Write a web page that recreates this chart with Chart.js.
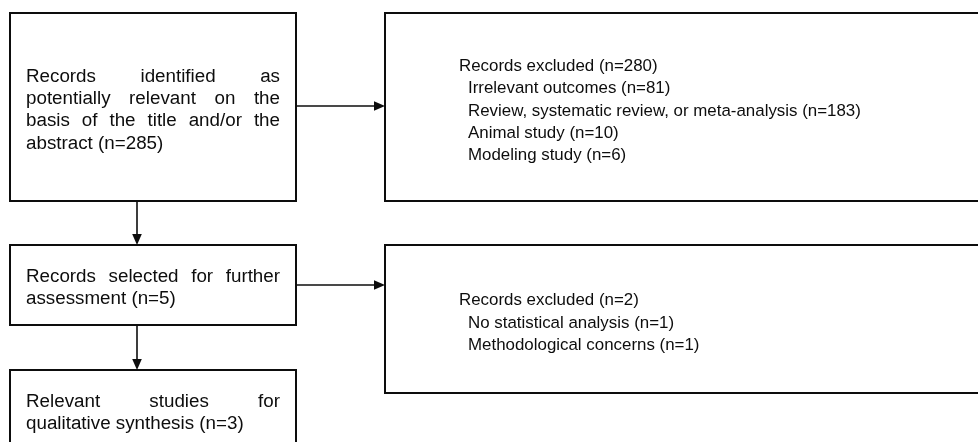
<!DOCTYPE html>
<html>
<head>
<meta charset="utf-8">
<script src="https://cdn.jsdelivr.net/npm/chart.js@4/dist/chart.umd.min.js"></script>
<style>
  html, body { margin: 0; padding: 0; background: #ffffff; }
  #wrap { width: 978px; height: 442px; }
</style>
</head>
<body>
<div id="wrap"><canvas id="c" width="978" height="442"></canvas></div>
<script>
// ---- data ----
const stageLabels = [
  'Records identified as potentially relevant on the basis of the title and/or the abstract',
  'Records selected for further assessment',
  'Relevant studies for qualitative synthesis'
];
const stageCounts = [285, 5, 3];
const excludedTotals = [280, 2];
const reasonsFirst = ['Irrelevant outcomes', 'Review, systematic review, or meta-analysis', 'Animal study', 'Modeling study'];
const reasonsFirstCounts = [81, 183, 10, 6];
const reasonsSecond = ['No statistical analysis', 'Methodological concerns'];
const reasonsSecondCounts = [1, 1];

// ---- layout (scale units: x 0..978, y 0..442 top-down) ----
const stageBoxes = [
  { x0: 10, x1: 296, y0: 13, y1: 201 },
  { x0: 10, x1: 296, y0: 245, y1: 325 },
  { x0: 10, x1: 296, y0: 370, y1: 450 }
];
const exclBoxes = [
  { x0: 385, x1: 985, y0: 13, y1: 201 },
  { x0: 385, x1: 985, y0: 245, y1: 393 }
];
const STAGE_FONT = '18.8px "Liberation Sans", Arial, sans-serif';
const EXCL_FONT = '16.9px "Liberation Sans", Arial, sans-serif';
const LINE_H = 22.2;
const INK = '#0d0d0d';

function n(v) { return ' (n=' + v + ')'; }

const flowPlugin = {
  id: 'flow',
  afterDraw(chart) {
    const ctx = chart.ctx;
    const sx = chart.scales.x, sy = chart.scales.y;
    const X = v => sx.getPixelForValue(v);
    const Y = v => sy.getPixelForValue(v);

    ctx.save();
    ctx.strokeStyle = INK;
    ctx.fillStyle = INK;

    function rect(b) {
      ctx.lineWidth = 2;
      ctx.strokeRect(X(b.x0), Y(b.y0), X(b.x1) - X(b.x0), Y(b.y1) - Y(b.y0));
    }
    function arrowH(xa, xb, y) {
      ctx.lineWidth = 1.6;
      ctx.beginPath();
      ctx.moveTo(X(xa), Y(y));
      ctx.lineTo(X(xb) - 9, Y(y));
      ctx.stroke();
      ctx.beginPath();
      ctx.moveTo(X(xb), Y(y));
      ctx.lineTo(X(xb) - 11, Y(y) - 4.8);
      ctx.lineTo(X(xb) - 11, Y(y) + 4.8);
      ctx.closePath();
      ctx.fill();
    }
    function arrowV(x, ya, yb) {
      ctx.lineWidth = 1.6;
      ctx.beginPath();
      ctx.moveTo(X(x), Y(ya));
      ctx.lineTo(X(x), Y(yb) - 9);
      ctx.stroke();
      ctx.beginPath();
      ctx.moveTo(X(x), Y(yb));
      ctx.lineTo(X(x) - 4.8, Y(yb) - 11);
      ctx.lineTo(X(x) + 4.8, Y(yb) - 11);
      ctx.closePath();
      ctx.fill();
    }
    function wrap(text, maxW) {
      const words = text.split(' ');
      const lines = [];
      let cur = [];
      for (const w of words) {
        const test = cur.concat([w]).join(' ');
        if (cur.length && ctx.measureText(test).width > maxW) {
          lines.push(cur);
          cur = [w];
        } else cur.push(w);
      }
      if (cur.length) lines.push(cur);
      return lines;
    }
    function justified(text, b) {
      ctx.font = STAGE_FONT;
      ctx.textBaseline = 'alphabetic';
      ctx.textAlign = 'left';
      const left = X(b.x0) + 16, right = X(b.x1) - 16;
      const width = right - left;
      const lines = wrap(text, width - 6);
      const capH = 13.4;
      const blockH = capH + (lines.length - 1) * LINE_H;
      const top = (Y(b.y0) + Y(b.y1)) / 2 - blockH / 2 + 1.5;
      lines.forEach((words, i) => {
        const base = top + capH + i * LINE_H;
        if (i === lines.length - 1 || words.length === 1) {
          ctx.fillText(words.join(' '), left, base);
        } else {
          const ww = words.reduce((s, w) => s + ctx.measureText(w).width, 0);
          const gap = (width - ww) / (words.length - 1);
          let x = left;
          words.forEach(w => { ctx.fillText(w, x, base); x += ctx.measureText(w).width + gap; });
        }
      });
    }
    function listBox(b, header, items, counts) {
      ctx.font = EXCL_FONT;
      ctx.textBaseline = 'alphabetic';
      ctx.textAlign = 'left';
      const lines = [header].concat(items.map((t, i) => t + n(counts[i])));
      const capH = 12;
      const blockH = capH + (lines.length - 1) * LINE_H;
      const top = (Y(b.y0) + Y(b.y1)) / 2 - blockH / 2 + 2.5;
      lines.forEach((t, i) => {
        const x = X(b.x0) + 74 + (i === 0 ? 0 : 9);
        ctx.fillText(t, x, top + capH + i * LINE_H);
      });
    }

    stageBoxes.forEach(rect);
    exclBoxes.forEach(rect);

    arrowH(stageBoxes[0].x1, exclBoxes[0].x0, 106);
    arrowH(stageBoxes[1].x1, exclBoxes[1].x0, 285);
    arrowV(137, stageBoxes[0].y1, stageBoxes[1].y0);
    arrowV(137, stageBoxes[1].y1, stageBoxes[2].y0);

    stageLabels.forEach((t, i) => justified(t + n(stageCounts[i]), stageBoxes[i]));
    listBox(exclBoxes[0], 'Records excluded' + n(excludedTotals[0]), reasonsFirst, reasonsFirstCounts);
    listBox(exclBoxes[1], 'Records excluded' + n(excludedTotals[1]), reasonsSecond, reasonsSecondCounts);

    ctx.restore();
  }
};

new Chart(document.getElementById('c'), {
  type: 'scatter',
  data: { datasets: [{ data: [], pointRadius: 0 }] },
  options: {
    responsive: false,
    animation: false,
    devicePixelRatio: 1,
    layout: { padding: 0 },
    plugins: { legend: { display: false }, tooltip: { enabled: false } },
    scales: {
      x: { type: 'linear', min: 0, max: 978, display: false },
      y: { type: 'linear', min: 0, max: 442, reverse: true, display: false }
    }
  },
  plugins: [flowPlugin]
});
</script>
</body>
</html>
